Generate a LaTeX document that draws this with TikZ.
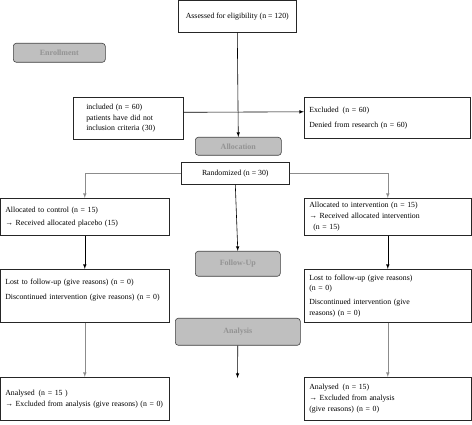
\documentclass[tikz,border=0pt]{standalone}
\usepackage{fontspec}
\setmainfont{Liberation Serif}
\usepackage{xcolor}
\usetikzlibrary{arrows,calc,positioning}

\begin{document}
\begin{tikzpicture}[x=1pt,y=-1pt,>=latex,
squarednode/.style={rectangle, draw=black!85, line width=0.6pt, anchor=north west, align=left, inner xsep=5pt, inner ysep=0pt, font=\fontsize{7.8}{10.8}\selectfont},
stagenode/.style={rectangle, rounded corners=3pt, draw=black!75, fill=gray!50, text=gray!85, line width=0.6pt, anchor=north west, inner sep=0pt, font=\fontsize{8}{9}\selectfont\bfseries},
flowline/.style={->, line width=0.6pt},
greyline/.style={->, line width=0.6pt, draw=gray!90},
]
\useasboundingbox (0,0) rectangle (472,425);
%Nodes
\node[squarednode, align=center, minimum width=118pt, minimum height=32pt] (assessed) at (178,0) {Assessed for eligibility (n = 120)};
\node[stagenode, minimum width=92pt, minimum height=19pt] (enroll) at (13,43) {Enrollment};
\node[squarednode, inner xsep=13pt, text width=84pt, minimum height=42pt] (included) at (73,97) {included (n = 60)\\ patients have did not\\ inclusion criteria (30)};
\node[squarednode, text width=156pt, minimum height=41pt] (excluded) at (304,97) {Excluded\, (n = 60)\\[4pt] Denied from research (n = 60)};
\node[stagenode, minimum width=86pt, minimum height=18pt] (alloc) at (195,137) {Allocation};
\node[squarednode, align=center, minimum width=108pt, minimum height=22pt] (random) at (181,162) {Randomized (n = 30)};
\node[squarednode, text width=159pt, minimum height=37pt] (control) at (0,198) {Allocated to control (n = 15)\\[2pt] → Received allocated placebo (15)};
\node[squarednode, text width=157pt, minimum height=37pt] (interv) at (304,198) {Allocated to intervention (n = 15)\\ → Received allocated intervention\\ \hspace{4pt}(n = 15)};
\node[stagenode, minimum width=85pt, minimum height=25pt] (follow) at (195,251) {Follow-Up};
\node[squarednode, text width=159pt, minimum height=53pt] (lostctrl) at (0,269) {Lost to follow-up (give reasons) (n = 0)\\[4pt] \mbox{Discontinued intervention (give reasons) (n = 0)}\\[2pt] \mbox{}};
\node[squarednode, text width=157pt, minimum height=53pt] (lostint) at (304,269) {Lost to follow-up (give reasons)\\ (n = 0)\\[3pt] Discontinued intervention (give\\ reasons) (n = 0)};
\node[stagenode, minimum width=125pt, minimum height=27pt] (analysis) at (175,318) {Analysis};
\node[squarednode, text width=159pt, minimum height=43pt] (anactrl) at (0,377) {Analysed\, (n = 15 )\\ \mbox{→ Excluded from analysis (give reasons) (n = 0)}};
\node[squarednode, text width=157pt, minimum height=43pt] (anaint) at (304,377) {Analysed\, (n = 15)\\ → Excluded from analysis\\ (give reasons) (n = 0)};
\coordinate (anaend) at (237.5,378);

%Lines
\draw[flowline] (assessed.south) -- (alloc.north);
\draw[flowline] ([yshift=6pt]included.east) -- ([yshift=6pt]excluded.west);
\draw[greyline] (random.west) -| (control.north);
\draw[greyline] (random.east) -| (interv.north);
\draw[flowline] (random.south) -- (follow.north);
\draw[flowline] (control.south) -- (lostctrl.north);
\draw[flowline] (interv.south) -- (lostint.north);
\draw[greyline] (lostctrl.south) -- (anactrl.north);
\draw[greyline] (lostint.south) -- (anaint.north);
\draw[flowline] (analysis.south) -- (anaend);
\end{tikzpicture}
\end{document}
